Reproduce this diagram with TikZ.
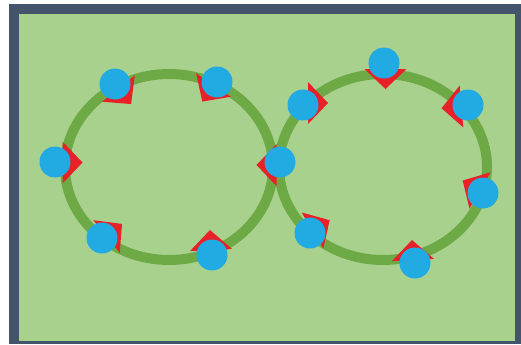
\documentclass[tikz,border=0pt]{standalone}
\definecolor{framec}{HTML}{44546A}
\definecolor{fieldgreen}{HTML}{A9D18E}
\definecolor{ringgreen}{HTML}{6DAA45}
\definecolor{dotblue}{HTML}{22AAE2}
\definecolor{wedgered}{HTML}{E82028}
\begin{document}
\begin{tikzpicture}[x=0.5pt,y=0.5pt,
  ring/.style={draw=ringgreen, line width=5pt},
  dot/.style={circle, fill=dotblue, minimum size=15.5pt, inner sep=0pt},
  pics/wedge/.style={code={\fill[wedgered] (90:21) -- (0:20) -- (-90:21) -- cycle;}}
]
% canvas and frame
\fill[white] (0,0) rectangle (521,344);
\useasboundingbox (0,0) rectangle (521,344);
\fill[framec] (9,0) rectangle (521,340);
\fill[fieldgreen] (19,3) rectangle (515,330);

% the two loops
\draw[ring] (169,177) ellipse [x radius=104, y radius=93];
\draw[ring] (383,177) ellipse [x radius=104, y radius=93];

% direction wedges on the left loop
\pic[rotate=-51] at (118.5,255.5) {wedge};
\pic[rotate=236] at (213.5,259) {wedge};
\pic[rotate=0]   at (62.5,181.5) {wedge};
\pic[rotate=39]  at (106.5,107.5) {wedge};
\pic[rotate=93]  at (211,94) {wedge};
\pic[rotate=180] at (276.5,179) {wedge};

% direction wedges on the right loop
\pic[rotate=-90] at (385.5,275) {wedge};
\pic[rotate=0]   at (308,241) {wedge};
\pic[rotate=185] at (461.5,237.5) {wedge};
\pic[rotate=150] at (480,153.5) {wedge};
\pic[rotate=31]  at (312.5,113.5) {wedge};
\pic[rotate=93]  at (413,84) {wedge};

% stations
\node[dot] (b1)  at (115,260) {};
\node[dot] (b2)  at (217,262) {};
\node[dot] (b3)  at (55,182) {};
\node[dot] (b4)  at (102,106) {};
\node[dot] (b5)  at (212,89) {};
\node[dot] (b6)  at (280,182) {};
\node[dot] (b7)  at (384,281) {};
\node[dot] (b8)  at (303,239) {};
\node[dot] (b9)  at (468,239) {};
\node[dot] (b10) at (483,151) {};
\node[dot] (b11) at (310,111) {};
\node[dot] (b12) at (415,81) {};
\end{tikzpicture}
\end{document}
